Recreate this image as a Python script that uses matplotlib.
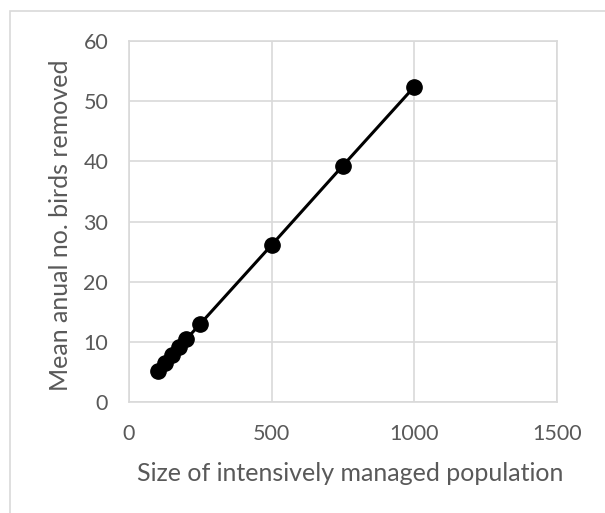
import matplotlib.pyplot as plt
from matplotlib.patches import Rectangle

# population size vs. mean annual number of birds removed
population_size = [100, 125, 150, 175, 200, 250, 500, 750, 1000]
birds_removed = [5.2, 6.5, 7.8, 9.1, 10.4, 13.0, 26.1, 39.3, 52.4]

x_ticks = [0, 500, 1000, 1500]
y_ticks = [0, 10, 20, 30, 40, 50, 60]

plt.rcParams['font.family'] = ['Lato', 'DejaVu Sans']
text_grey = '#595959'
grid_grey = '#d9d9d9'

fig = plt.figure(figsize=(6.05, 5.13), dpi=100)
fig.patch.set_facecolor('white')

# chart frame: only the top and left edges fall inside the image
fig.patches.append(Rectangle((10 / 605, -0.1), 1.2, 1 - 11 / 513 + 0.1,
                             transform=fig.transFigure, fill=False,
                             edgecolor=grid_grey, linewidth=1.2))

ax = fig.add_axes([129 / 605, 1 - 402 / 513, 428 / 605, 361 / 513])
ax.plot(population_size, birds_removed, color='black', linewidth=2.2,
        marker='o', markersize=11, zorder=3)

ax.set_xlim(0, 1500)
ax.set_ylim(0, 60)
ax.set_xticks(x_ticks)
ax.set_yticks(y_ticks)
ax.grid(True, color=grid_grey, linewidth=1.2)
ax.set_axisbelow(True)
for side in ax.spines.values():
    side.set_color(grid_grey)
    side.set_linewidth(1.2)
ax.tick_params(length=0, labelsize=15.5, labelcolor=text_grey)
ax.tick_params(axis='x', pad=16)
ax.tick_params(axis='y', pad=15)

ax.set_xlabel('Size of intensively managed population', fontsize=18,
              color=text_grey, labelpad=13)
ax.set_ylabel('Mean anual no. birds removed', fontsize=18,
              color=text_grey, labelpad=8)
ax.xaxis.label.set_x(0.516)
ax.yaxis.label.set_y(0.49)

fig.savefig('out.png', dpi=100)
